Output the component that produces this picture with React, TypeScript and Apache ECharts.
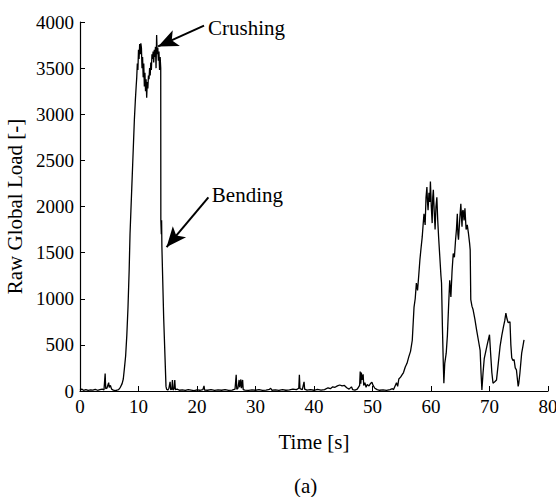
import React, { useEffect, useRef } from "react";
import * as echarts from "echarts";

// Time [s] and raw global load [-]
const time: number[] = [
  0, 0.3, 0.6, 1.0, 1.4, 1.8, 2.2, 2.6, 3.0, 3.4, 3.8, 4.1, 4.3, 4.4, 4.6, 4.9, 5.0, 5.2, 5.4, 5.7,
  6.0, 6.3, 6.6, 6.9, 7.2, 7.4, 7.6, 7.8, 8.0, 8.2, 8.4, 8.55, 8.7, 8.85, 9.0, 9.15, 9.3, 9.46, 9.6, 9.7,
  9.8, 9.9, 10.0, 10.1, 10.2, 10.3, 10.4, 10.5, 10.6, 10.7, 10.8, 10.9, 11.0, 11.1, 11.2, 11.3, 11.4, 11.5, 11.6, 11.7,
  11.8, 11.9, 12.0, 12.1, 12.2, 12.3, 12.4, 12.5, 12.6, 12.7, 12.8, 12.9, 13.0, 13.1, 13.2, 13.3, 13.4, 13.5, 13.6, 13.7,
  13.8, 13.82, 13.9, 13.95, 14.0, 14.3, 14.7, 14.8, 15.0, 15.2, 15.4, 15.5, 15.7, 15.8, 15.9, 16.1, 16.2, 16.3, 16.6, 17.0,
  17.5, 18.0, 18.5, 19.0, 19.5, 20.0, 20.5, 21.0, 21.2, 21.3, 21.8, 22.4, 23.0, 23.6, 24.2, 24.8, 25.4, 26.0, 26.5, 26.7,
  26.8, 27.0, 27.2, 27.3, 27.5, 27.6, 27.8, 27.9, 28.2, 28.8, 29.4, 30.0, 30.6, 31.2, 31.8, 32.4, 32.6, 32.8, 33.4, 34.0,
  34.6, 35.2, 35.8, 36.4, 37.0, 37.4, 37.5, 37.6, 38.0, 38.3, 38.4, 38.8, 39.4, 40.0, 40.6, 41.2, 41.8, 42.4, 42.8, 43.2,
  43.6, 44.0, 44.4, 44.8, 45.2, 45.6, 46.0, 46.4, 46.6, 47.0, 47.4, 47.8, 47.9, 48.0, 48.1, 48.2, 48.4, 48.5, 48.7, 48.9,
  49.1, 49.4, 49.7, 49.9, 50.1, 50.4, 50.8, 51.2, 51.8, 52.4, 53.0, 53.4, 53.6, 53.9, 54.1, 54.3, 54.5, 54.8, 55.1, 55.3,
  55.6, 55.9, 56.2, 56.5, 56.8, 57.1, 57.3, 57.5, 57.7, 57.9, 58.1, 58.3, 58.5, 58.65, 58.8, 59.0, 59.15, 59.3, 59.4, 59.5,
  59.65, 59.8, 59.9, 60.05, 60.2, 60.3, 60.4, 60.55, 60.7, 60.85, 61.0, 61.15, 61.3, 61.5, 61.7, 61.8, 61.95, 62.1, 62.2, 62.35,
  62.6, 62.8, 63.0, 63.2, 63.4, 63.6, 63.8, 64.0, 64.2, 64.35, 64.5, 64.6, 64.7, 64.9, 65.1, 65.2, 65.3, 65.4, 65.5, 65.65,
  65.8, 66.0, 66.2, 66.4, 66.6, 66.7, 66.8, 67.0, 67.2, 67.5, 67.8, 68.1, 68.4, 68.55, 68.7, 68.9, 69.1, 69.4, 69.6, 70.0,
  70.2, 70.4, 70.6, 70.9, 71.2, 71.5, 71.8, 72.1, 72.4, 72.6, 72.8, 73.0, 73.2, 73.5, 73.65, 73.8, 74.0, 74.2, 74.4, 74.6,
  74.9, 75.0, 75.2, 75.5, 75.7, 75.9,
];
const load: number[] = [
  10, 20, 8, 15, 6, 12, 10, 18, 8, 14, 20, 12, 190, 25, 30, 90, 40, 60, 20, 10,
  5, 8, 15, 40, 80, 130, 250, 380, 600, 900, 1300, 1700, 1950, 2200, 2450, 2700, 2950, 3150, 3300, 3400,
  3550, 3480, 3700, 3600, 3760, 3650, 3770, 3720, 3500, 3620, 3400, 3550, 3300, 3450, 3250, 3380, 3180, 3350, 3280, 3420,
  3380, 3500, 3420, 3560, 3480, 3650, 3600, 3680, 3560, 3700, 3620, 3730, 3500, 3860, 3650, 3720, 3580, 3680, 3480, 3620,
  3500, 1850, 1700, 1850, 1560, 800, 50, 20, 10, 30, 100, 15, 20, 120, 10, 30, 120, 15, 20, 8,
  12, 6, 15, 10, 5, 12, 8, 15, 55, 10, 8, 15, 6, 12, 8, 14, 6, 10, 20, 175,
  20, 30, 120, 40, 125, 30, 120, 15, 10, 6, 12, 8, 15, 6, 10, 18, 30, 8, 12, 6,
  14, 8, 12, 20, 15, 30, 175, 25, 15, 100, 20, 10, 15, 8, 18, 10, 15, 35, 25, 45,
  40, 55, 65, 55, 60, 35, 20, 45, 15, 10, 20, 60, 210, 80, 200, 120, 180, 60, 90, 40,
  70, 55, 85, 95, 60, 30, 15, 8, 12, 6, 15, 25, 15, 60, 90, 50, 130, 150, 180, 200,
  260, 300, 370, 430, 550, 910, 1000, 1170, 1090, 1250, 1420, 1550, 1670, 1800, 1920, 1800, 2100, 2210, 2050, 1960,
  2150, 2050, 2270, 2000, 1820, 2100, 2180, 1950, 1750, 2000, 2100, 1850, 1670, 1460, 1250, 1170, 700, 300, 85, 300,
  410, 600, 910, 1200, 1020, 1300, 1490, 1450, 1640, 1750, 1920, 1700, 1640, 1850, 2030, 1900, 1780, 1950, 1960, 1850,
  1980, 1750, 1800, 1710, 1600, 1530, 990, 920, 880, 780, 660, 550, 440, 200, 10, 200, 350, 440, 500, 610,
  400, 200, 85, 100, 120, 300, 480, 600, 700, 760, 845, 780, 740, 750, 500, 360, 330, 340, 250, 230,
  50, 80, 195, 410, 480, 555,
];

const yTicks: number[] = [0, 500, 1000, 1500, 2000, 2500, 3000, 3500, 4000];
const xTicks: number[] = [0, 10, 20, 30, 40, 50, 60, 70, 80];

// Annotations: label, text anchor (t, load), arrow start (t, load), arrow tip (t, load)
const annotationLabels: string[] = ["Crushing", "Bending"];
const annotationTextAt: number[][] = [[21.8, 3935], [22.45, 2125]];
const arrowFrom: number[][] = [[21.2, 3960], [21.95, 2100]];
const arrowTo: number[][] = [[13.35, 3735], [14.8, 1560]];

const FONT = "Liberation Serif";

const tickText = { fontFamily: FONT, fontSize: 19, color: "#000" };
const nameText = { fontFamily: FONT, fontSize: 21, color: "#000" };

export default function App() {
  const ref = useRef<HTMLDivElement>(null);
  useEffect(() => {
    document.body.style.margin = "0";
    if (!ref.current) return;
    const chart = echarts.init(ref.current, undefined, { renderer: "svg" });
    const data = time.map((t, i) => [t, load[i]]);
    chart.setOption({
      animation: false,
      backgroundColor: "#ffffff",
      textStyle: { fontFamily: FONT, color: "#000" },
      grid: {
        left: 80,
        right: 8,
        top: 22,
        bottom: 106,
        containLabel: false,
        outerBoundsMode: "none",
      },
      xAxis: {
        type: "value",
        min: xTicks[0],
        max: xTicks[xTicks.length - 1],
        interval: 10,
        name: "{n|Time [s]}",
        nameLocation: "middle",
        nameGap: 40,
        nameTextStyle: { ...nameText, rich: { n: nameText } },
        axisLine: { show: true, lineStyle: { color: "#000", width: 1.2 } },
        axisTick: { show: true, inside: true, length: 5, lineStyle: { color: "#000", width: 1 } },
        axisLabel: {
          ...tickText,
          margin: 6,
          formatter: (v: number) => `{t|${v}}`,
          rich: { t: tickText },
        },
        splitLine: { show: false },
      },
      yAxis: {
        type: "value",
        min: yTicks[0],
        max: yTicks[yTicks.length - 1],
        interval: 500,
        name: "{n|Raw Global Load [-]}",
        nameLocation: "middle",
        nameGap: 46,
        nameRotate: 90,
        nameTextStyle: { ...nameText, rich: { n: nameText } },
        axisLine: { show: true, lineStyle: { color: "#000", width: 1.2 } },
        axisTick: { show: true, inside: true, length: 5, lineStyle: { color: "#000", width: 1 } },
        axisLabel: {
          ...tickText,
          margin: 6,
          formatter: (v: number) => `{t|${v}}`,
          rich: { t: tickText },
        },
        splitLine: { show: false },
      },
      graphic: [
        {
          type: "text",
          left: 294,
          top: 475,
          style: { text: "(a)", font: `21px ${FONT}`, fill: "#000" },
        },
      ],
      series: [
        {
          type: "line",
          data,
          showSymbol: false,
          symbol: "none",
          lineStyle: { color: "#000", width: 1.3 },
          silent: true,
          markLine: {
            silent: true,
            symbol: ["none", "arrow"],
            symbolSize: [13, 20],
            lineStyle: { color: "#000", width: 2, type: "solid" },
            label: { show: false },
            data: arrowFrom.map((f, i) => [
              { coord: f, symbol: "none" },
              { coord: arrowTo[i], symbol: "arrow" },
            ]),
          },
          markPoint: {
            silent: true,
            symbol: "circle",
            symbolSize: 1,
            itemStyle: { color: "rgba(0,0,0,0)" },
            label: {
              show: true,
              position: "right",
              distance: 0,
              fontFamily: FONT,
              fontSize: 21,
              color: "#000",
            },
            data: annotationLabels.map((name, i) => ({
              coord: annotationTextAt[i],
              value: name,
              label: { formatter: name },
            })),
          },
        },
      ],
    });
    return () => chart.dispose();
  }, []);
  return <div ref={ref} style={{ width: 556, height: 497 }} />;
}
